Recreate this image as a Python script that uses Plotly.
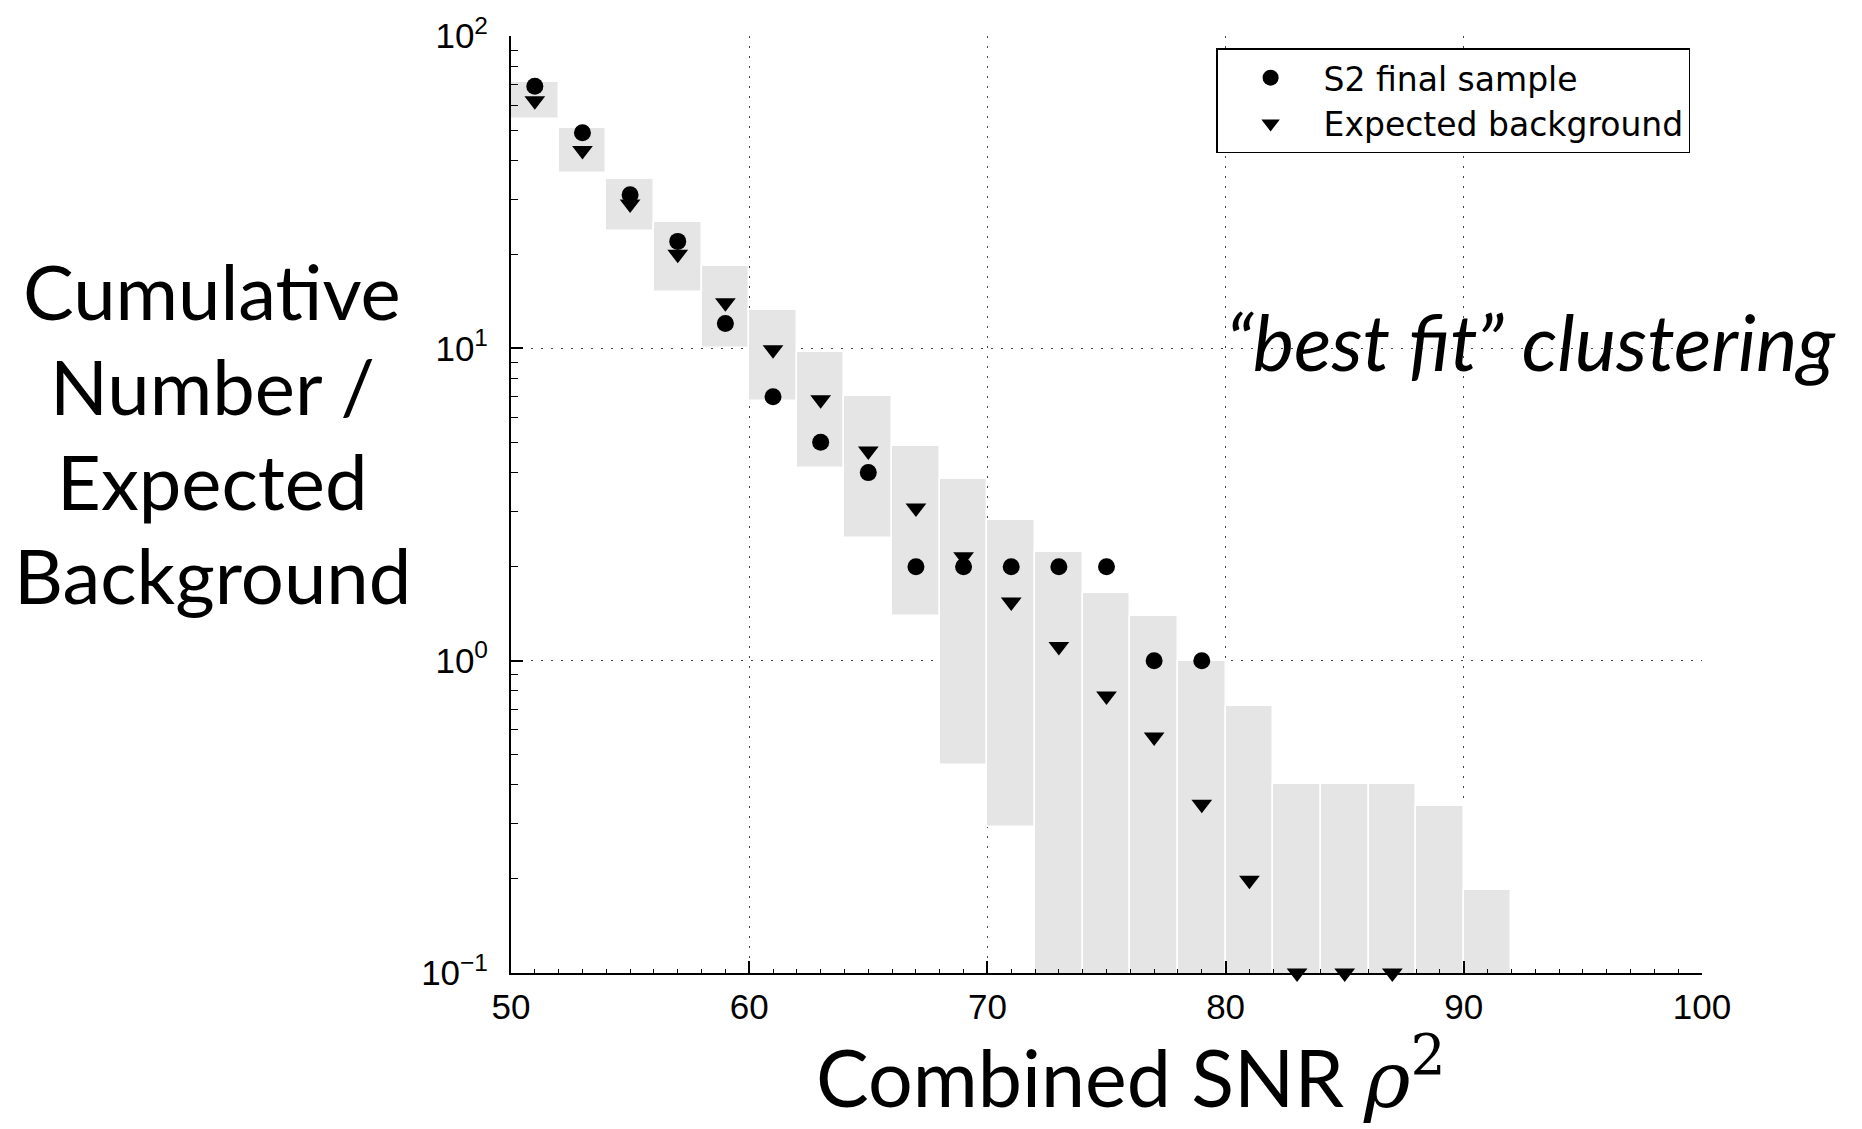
import plotly.graph_objects as go

# ---- data ----
bin_left = [50, 52, 54, 56, 58, 60, 62, 64, 66, 68, 70, 72, 74, 76, 78, 80, 82, 84, 86, 88, 90]
bin_width = 2
band_upper = [71, 50.8, 34.8, 25.4, 18.3, 13.3, 9.75, 7.05, 4.86, 3.81, 2.82,
              2.23, 1.65, 1.39, 1.0, 0.718, 0.404, 0.404, 0.404, 0.342, 0.184]
ZERO_FLOOR = 0.01  # lower bound of 0 (cannot be drawn on a log axis)
band_lower = [54.4, 36.5, 23.8, 15.1, 10.0, 6.8, 4.15, 2.47, 1.39, 0.462, 0.293,
              ZERO_FLOOR, ZERO_FLOOR, ZERO_FLOOR, ZERO_FLOOR, ZERO_FLOOR,
              ZERO_FLOOR, ZERO_FLOOR, ZERO_FLOOR, ZERO_FLOOR, ZERO_FLOOR]

s2_x = [51, 53, 55, 57, 59, 61, 63, 65, 67, 69, 71, 73, 75, 77, 79]
s2_y = [69, 49, 31, 22, 12, 7, 5, 4, 2, 2, 2, 2, 2, 1, 1]

bg_x = [51, 53, 55, 57, 59, 61, 63, 65, 67, 69, 71, 73, 75, 77, 79, 81, 83, 85, 87]
bg_y = [62, 43, 29, 20, 14, 9.9, 6.84, 4.69, 3.08, 2.15, 1.54, 1.11, 0.77, 0.57,
        0.347, 0.198, 0.1, 0.1, 0.1]

x_ticks = [50, 60, 70, 80, 90, 100]
y_ticks = [0.1, 1, 10, 100]
y_ticktext = ["10<sup>\u22121</sup>", "10<sup>0</sup>", "10<sup>1</sup>", "10<sup>2</sup>"]
y_minor = [m * 10 ** e for e in (-1, 0, 1) for m in range(2, 10)]

y_title_lines = ["Cumulative", "Number /", "Expected", "Background"]
y_title_line_pos = [0.7289, 0.6275, 0.5261, 0.4248]

bin_centers = [b + bin_width / 2 for b in bin_left]
band_height = [u - l for u, l in zip(band_upper, band_lower)]

TICKFONT = "Liberation Sans, Arial, Helvetica, sans-serif"
LEGENDFONT = "DejaVu Sans, sans-serif"
BIGFONT = "Lato, 'Open Sans', sans-serif"
GRIDDASH = "2px,8px"

fig = go.Figure()
fig.add_trace(go.Bar(
    x=bin_centers, y=band_height, base=band_lower, width=bin_width,
    marker=dict(color="#e5e5e5", line=dict(color="white", width=1.5)),
    showlegend=False, hoverinfo="skip",
))
fig.add_trace(go.Scatter(
    x=s2_x, y=s2_y, mode="markers", name="S2 final sample",
    marker=dict(symbol="circle", size=17, color="black"), cliponaxis=False,
))
fig.add_trace(go.Scatter(
    x=bg_x, y=bg_y, mode="markers", name="Expected background",
    marker=dict(symbol="triangle-down", size=18, color="black"), cliponaxis=False,
))

annotations = [
    dict(text=line, xref="paper", yref="paper", x=-0.251, y=yp,
         xanchor="center", yanchor="middle", showarrow=False,
         font=dict(family=BIGFONT, size=76, color="black"))
    for line, yp in zip(y_title_lines, y_title_line_pos)
]
annotations += [
    dict(text="Combined SNR <span style='font-family:DejaVu Serif'><i>\u03c1</i></span><sup><span style='font-family:DejaVu Serif'>2</span></sup>",
         xref="paper", yref="paper", x=0.5206, y=-0.108,
         xanchor="center", yanchor="middle", showarrow=False,
         font=dict(family=BIGFONT, size=79, color="black")),
    dict(text="<i>\u201cbest fit\u201d clustering</i>",
         xref="paper", yref="paper", x=1.114, y=0.675,
         xanchor="right", yanchor="middle", showarrow=False,
         font=dict(family=BIGFONT, size=78, color="black")),
]

fig.update_layout(
    width=1862, height=1129,
    margin=dict(l=511, r=160, t=36, b=156),
    paper_bgcolor="white", plot_bgcolor="white",
    bargap=0,
    legend=dict(
        x=0.99, y=0.987, xanchor="right", yanchor="top",
        bgcolor="white", bordercolor="black", borderwidth=1.5,
        font=dict(family=LEGENDFONT, size=33, color="black"),
        itemwidth=96, tracegroupgap=0,
    ),
    xaxis=dict(
        range=[50, 100], tickvals=x_ticks, ticks="inside", ticklen=12, tickwidth=1.5,
        tickcolor="black", showline=True, linecolor="black", linewidth=2,
        showgrid=True, gridcolor="#444", griddash=GRIDDASH, gridwidth=1,
        zeroline=False, mirror=False,
        tickfont=dict(family=TICKFONT, size=35, color="black"),
        ticklabelstandoff=2,
        minor=dict(ticks="inside", ticklen=4, tickwidth=1, tickcolor="black", dtick=1, showgrid=False),
    ),
    yaxis=dict(
        type="log", range=[-1, 2], tickvals=y_ticks, ticktext=y_ticktext,
        ticks="inside", ticklen=12, tickwidth=1.5, tickcolor="black",
        showline=True, linecolor="black", linewidth=2,
        showgrid=True, gridcolor="#444", griddash=GRIDDASH, gridwidth=1,
        zeroline=False, mirror=False,
        tickfont=dict(family=TICKFONT, size=35, color="black"),
        ticklabelstandoff=14,
        minor=dict(ticks="inside", ticklen=7, tickwidth=1, tickcolor="black",
                   tickvals=y_minor, showgrid=False),
    ),
    annotations=annotations,
)

fig.write_html("out.html")
